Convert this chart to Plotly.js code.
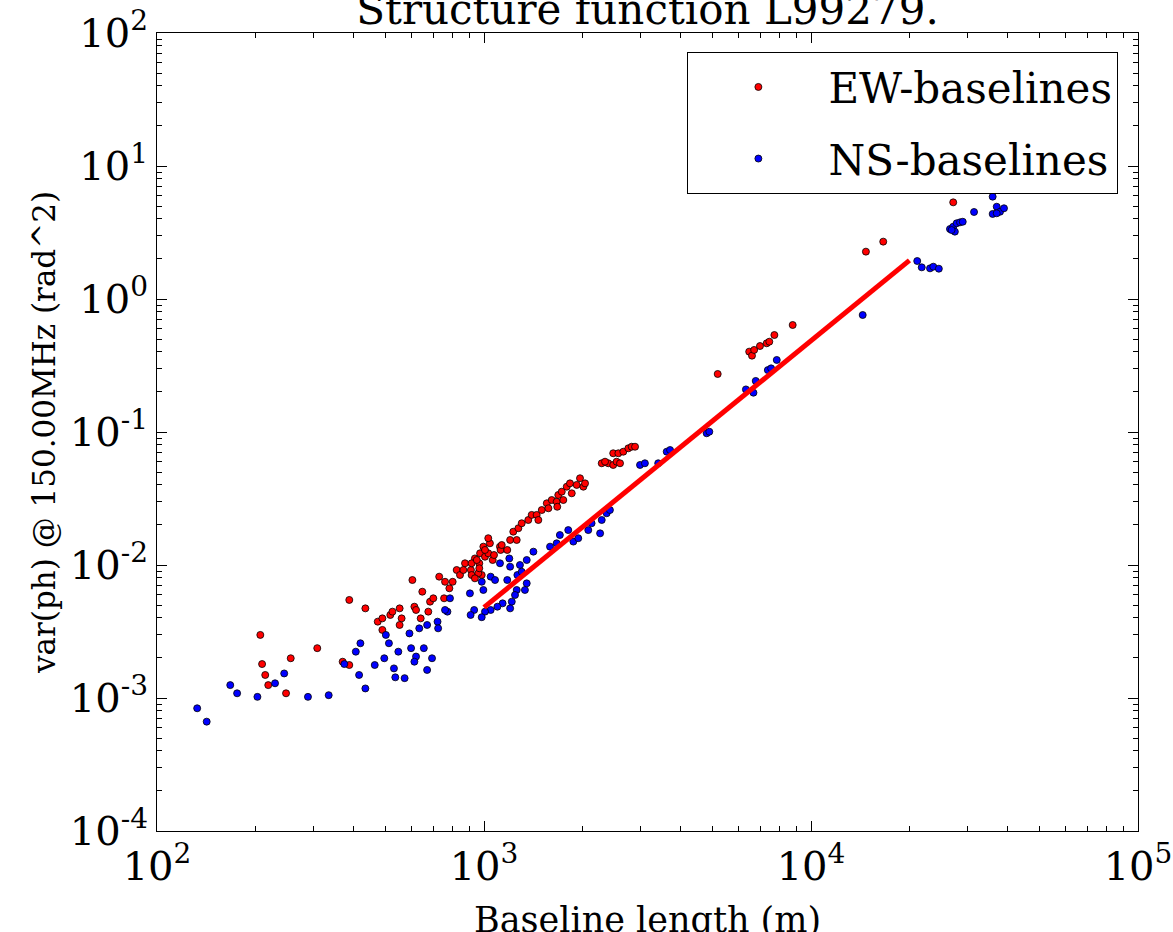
<!DOCTYPE html>
<html>
<head>
<meta charset="utf-8">
<script src="https://cdn.plot.ly/plotly-3.0.1.min.js"></script>
<style>html,body{margin:0;padding:0;background:#fff;}#chart{width:1173px;height:932px;}</style>
</head>
<body>
<div id="chart"></div>
<script>
// EW-baselines (red)
const ewX = [207, 209.6, 214.3, 218.9, 248.1, 256.4, 309.1, 369.6, 387.3, 387.3, 433.7, 473.2, 488.9, 488.9, 517, 524.8, 552.1, 559.8, 552, 612.5, 619.7, 640.3, 675.6, 684, 647.6, 699.8, 604, 729.4, 760.2, 783.6, 755, 802, 825, 844.5, 874.8, 864.7, 912, 916.5, 938, 967.4, 972.7, 995.4, 1007, 1030.5, 1042.5, 1063, 1073, 1119, 1124, 1178, 1202, 984, 960.7, 938, 967.4, 1259, 916.5, 950.6, 1007, 1030.5, 1133, 1229, 1274, 1304, 1366, 1399, 1449, 1466, 1502, 1556, 1574, 1611, 1668, 1687, 1729, 1791, 1832, 1855, 1921, 1966, 2013, 2037, 1675, 1748, 2291, 2399, 2484, 2544, 2345, 2606, 2484, 2576, 2667, 2763, 2829, 2897, 5184, 6471, 6600, 6700, 6982, 7320, 7456, 7727, 8790, 14720, 16630, 27220];
const ewY = [2.98e-3, 1.80e-3, 1.49e-3, 1.25e-3, 1.085e-3, 1.99e-3, 2.37e-3, 1.875e-3, 1.77e-3, 5.46e-3, 4.72e-3, 3.75e-3, 3.97e-3, 3.25e-3, 4.21e-3, 4.46e-3, 4.72e-3, 3.97e-3, 3.54e-3, 4.86e-3, 4.59e-3, 3.97e-3, 4.46e-3, 5.30e-3, 6.30e-3, 5.62e-3, 7.71e-3, 8.17e-3, 7.48e-3, 6.68e-3, 5.62e-3, 7.48e-3, 9.17e-3, 8.41e-3, 1.03e-2, 9.17e-3, 9.17e-3, 8.41e-3, 1.12e-2, 1.03e-2, 1.225e-2, 1.374e-2, 1.154e-2, 1.225e-2, 1.456e-2, 1.09e-2, 1.189e-2, 1.374e-2, 1.297e-2, 1.297e-2, 1.542e-2, 8.41e-3, 8.67e-3, 7.94e-3, 9.45e-3, 1.542e-2, 1.03e-2, 1.09e-2, 1.297e-2, 1.59e-2, 1.413e-2, 1.78e-2, 1.89e-2, 2.06e-2, 2.18e-2, 2.38e-2, 2.38e-2, 2.18e-2, 2.59e-2, 2.91e-2, 2.67e-2, 3.08e-2, 2.99e-2, 3.36e-2, 3.56e-2, 3.88e-2, 4.11e-2, 3.46e-2, 4.0e-2, 4.49e-2, 3.88e-2, 4.11e-2, 2.74e-2, 3.08e-2, 5.82e-2, 5.82e-2, 5.65e-2, 5.98e-2, 5.98e-2, 5.82e-2, 6.92e-2, 6.92e-2, 7.11e-2, 7.54e-2, 7.75e-2, 7.75e-2, 0.273, 0.402, 0.375, 0.414, 0.443, 0.4645, 0.4775, 0.536, 0.6375, 2.27, 2.70, 5.33];

// NS-baselines (blue)
const nsX = [132.7, 141.9, 167.5, 175.8, 202.8, 229.6, 244.9, 289.5, 335, 374, 405.5, 418.8, 415, 433.7, 463.3, 495.5, 501, 512, 530.4, 535.5, 571.8, 547, 591.6, 598.4, 619.7, 612.5, 654.6, 669.9, 693.5, 633.9, 669.9, 721, 724, 905.7, 984.3, 995.4, 1048, 1081, 1119, 1195, 1178, 1202, 1288, 1351, 1416, 1265, 1351, 1334, 1259, 1244, 1216, 1140, 1099, 1048, 1007, 984, 933, 910, 1202, 773, 760, 787, 1304, 1592, 1668, 1706, 1810, 1876, 1942, 2084, 2133, 2265, 2291, 2372, 2427, 3000, 3105, 3410, 3620, 3707, 4797, 4887, 6324, 6668, 6776, 7379, 7551, 7857, 14390, 21130, 21810, 23120, 23660, 24600, 26610, 27220, 27890, 28560, 29110, 27540, 26920, 31520, 35940, 35940, 36980, 37850, 38920, 36980];
const nsY = [8.37e-4, 6.64e-4, 1.25e-3, 1.085e-3, 1.02e-3, 1.29e-3, 1.53e-3, 1.02e-3, 1.05e-3, 1.80e-3, 2.23e-3, 2.58e-3, 1.49e-3, 1.18e-3, 1.77e-3, 1.99e-3, 2.98e-3, 2.58e-3, 1.67e-3, 1.43e-3, 1.41e-3, 2.23e-3, 3.06e-3, 2.37e-3, 2.05e-3, 1.875e-3, 2.37e-3, 1.625e-3, 1.99e-3, 3.34e-3, 3.54e-3, 3.75e-3, 3.34e-3, 6.12e-3, 7.48e-3, 6.49e-3, 8.17e-3, 7.71e-3, 1.03e-2, 1.12e-2, 7.71e-3, 9.71e-3, 1.0e-2, 1.09e-2, 1.26e-2, 8.41e-3, 7.28e-3, 6.49e-3, 6.49e-3, 5.95e-3, 5.30e-3, 5.15e-3, 4.86e-3, 4.59e-3, 4.46e-3, 4.05e-3, 4.59e-3, 4.21e-3, 4.72e-3, 4.46e-3, 4.59e-3, 5.62e-3, 8.9e-3, 1.374e-2, 1.456e-2, 1.68e-2, 1.83e-2, 1.50e-2, 1.59e-2, 1.83e-2, 2.06e-2, 1.73e-2, 2.18e-2, 2.45e-2, 2.59e-2, 5.65e-2, 5.82e-2, 5.82e-2, 7.11e-2, 7.32e-2, 9.78e-2, 0.1005, 0.209, 0.1975, 0.242, 0.292, 0.301, 0.348, 0.758, 1.93, 1.73, 1.70, 1.75, 1.69, 3.36, 3.50, 3.71, 3.77, 3.81, 3.21, 3.30, 4.51, 5.88, 4.36, 4.94, 4.53, 4.81, 4.41];

// Fitted power-law line
const fitX = [1000, 20000];
const fitY = [0.0048, 1.95];

// Axis tick labels
const xTickVals = [1e2, 1e3, 1e4, 1e5];
const xTickText = ['10<sup>2</sup>', '10<sup>3</sup>', '10<sup>4</sup>', '10<sup>5</sup>'];
const yTickVals = [1e-4, 1e-3, 1e-2, 1e-1, 1e0, 1e1, 1e2];
const yTickText = ['10<sup>-4</sup>', '10<sup>-3</sup>', '10<sup>-2</sup>', '10<sup>-1</sup>', '10<sup>0</sup>', '10<sup>1</sup>', '10<sup>2</sup>'];

function minorTicks(lo, hi) {
  const out = [];
  for (let e = lo; e < hi; e++) for (let m = 2; m <= 9; m++) out.push(m * Math.pow(10, e));
  return out;
}

const FONT = '"DejaVu Serif", serif';
const mk = (c) => ({size: 7, color: c, line: {color: '#000', width: 0.8}});

const traces = [
  {x: ewX, y: ewY, type: 'scatter', mode: 'markers', name: 'EW-baselines', legendgroup: 'ew', marker: mk('#ff0000')},
  {x: nsX, y: nsY, type: 'scatter', mode: 'markers', name: 'NS-baselines', legendgroup: 'ns', marker: mk('#0000ff')},
  {x: fitX, y: fitY, type: 'scatter', mode: 'lines', showlegend: false, line: {color: '#ff0000', width: 5}}
];

const axisCommon = {
  type: 'log', showgrid: false, zeroline: false, showline: true, linecolor: '#000', linewidth: 1,
  mirror: 'allticks', ticks: 'inside', ticklen: 10, tickwidth: 1, tickcolor: '#000',
  tickmode: 'array', tickfont: {family: FONT, size: 40, color: '#000'}
};

const layout = {
  width: 1173, height: 932,
  margin: {l: 157, r: 35, t: 33, b: 101},
  paper_bgcolor: '#fff', plot_bgcolor: '#fff',
  font: {family: FONT, color: '#000'},
  title: {text: 'Structure function L99279.', font: {family: FONT, size: 42, color: '#000'},
          x: 0.5, xref: 'paper', xanchor: 'center', y: 0.974, yref: 'container', yanchor: 'bottom'},
  xaxis: Object.assign({}, axisCommon, {
    range: [2, 5], tickvals: xTickVals, ticktext: xTickText,
    minor: {tickmode: 'array', tickvals: minorTicks(2, 5), ticks: 'inside', ticklen: 5, tickcolor: '#000'}
  }),
  yaxis: Object.assign({}, axisCommon, {
    range: [-4, 2], tickvals: yTickVals, ticktext: yTickText,
    minor: {tickmode: 'array', tickvals: minorTicks(-4, 2), ticks: 'inside', ticklen: 5, tickcolor: '#000'},
    title: {text: 'var(ph) @ 150.00MHz (rad^2)', font: {family: FONT, size: 31, color: '#000'}, standoff: 4}
  }),
  annotations: [{
    text: 'Baseline length (m)', xref: 'paper', yref: 'paper', x: 0.5, y: -0.112,
    xanchor: 'center', yanchor: 'middle', showarrow: false,
    font: {family: FONT, size: 35, color: '#000'}
  }],
  showlegend: true,
  legend: {x: 0.98, xanchor: 'right', y: 0.976, yanchor: 'top', bgcolor: '#fff', bordercolor: '#000', borderwidth: 1,
           font: {family: FONT, size: 42, color: '#000'}, itemwidth: 130, traceorder: 'grouped', tracegroupgap: 14}
};

Plotly.newPlot('chart', traces, layout, {staticPlot: true, displayModeBar: false});
</script>
</body>
</html>
